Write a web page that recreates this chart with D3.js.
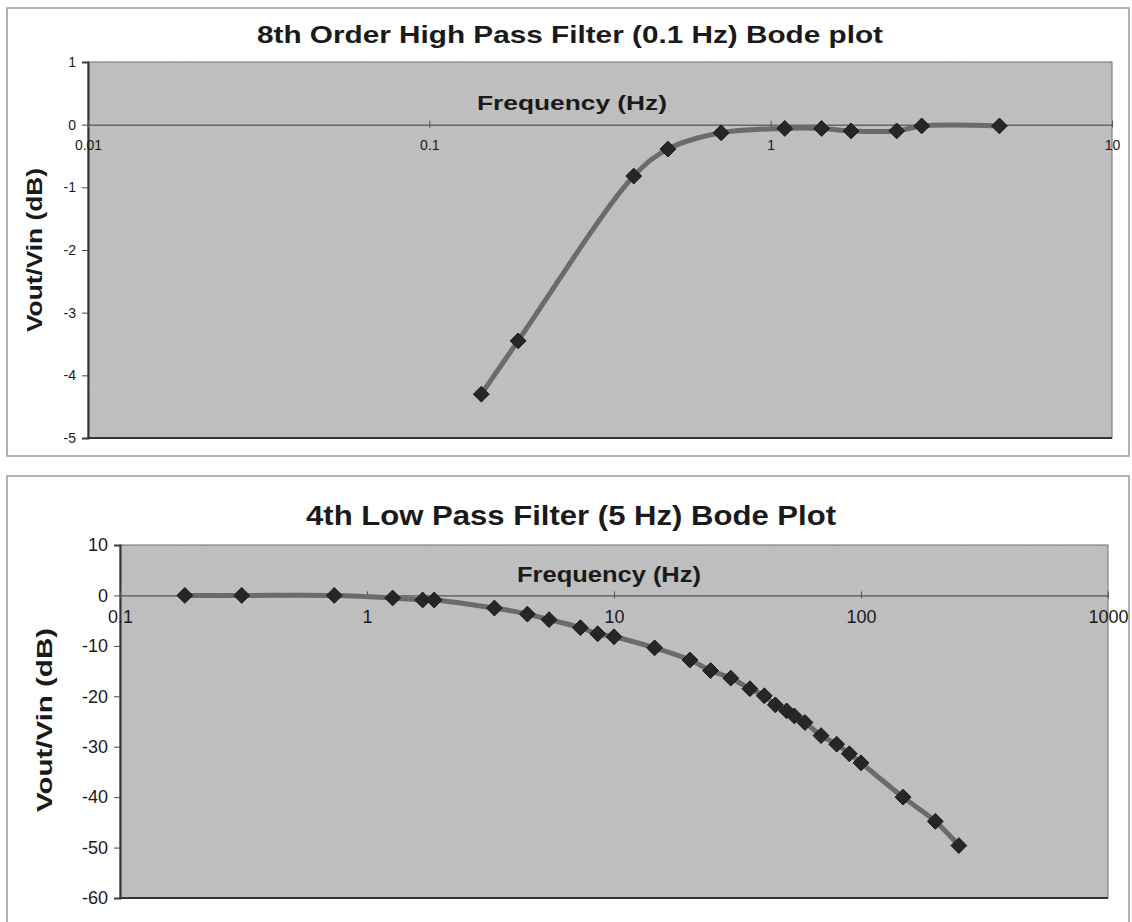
<!DOCTYPE html>
<html>
<head>
<meta charset="utf-8">
<script src="https://cdn.jsdelivr.net/npm/d3@7"></script>
<style>
  body { margin: 0; background: #fff; }
  text { font-family: "Liberation Sans", Arial, sans-serif; fill: #1a1a1a; }
</style>
</head>
<body>
<svg id="chart" width="1132" height="922"></svg>
<script>
// High pass (0.1 Hz) measurements
const hpFreq = [0.142, 0.182, 0.397, 0.50, 0.716, 1.10, 1.41, 1.72, 2.34, 2.77, 4.68];
const hpGain = [-4.30, -3.45, -0.82, -0.39, -0.13, -0.06, -0.06, -0.10, -0.10, -0.02, -0.02];
const hpXTicks = [0.01, 0.1, 1, 10];
const hpYTicks = [1, 0, -1, -2, -3, -4, -5];

// Low pass (5 Hz) measurements
const lpFreq = [0.183, 0.311, 0.737, 1.27, 1.68, 1.87, 3.28, 4.46, 5.46, 7.31, 8.59, 10.0,
  14.6, 20.3, 24.6, 29.7, 35.5, 40.6, 45, 50, 53.7, 59.3, 68.9, 79.7, 89.7, 100, 148, 200, 249];
const lpGain = [0, 0, 0, -0.5, -0.9, -0.9, -2.5, -3.7, -4.8, -6.4, -7.6, -8.2,
  -10.4, -12.8, -14.9, -16.4, -18.5, -19.9, -21.7, -22.9, -23.9, -25.2, -27.8, -29.5, -31.4, -33.2, -40.0, -44.8, -49.6];
const lpXTicks = [0.1, 1, 10, 100, 1000];
const lpYTicks = [10, 0, -10, -20, -30, -40, -50, -60];

const svg = d3.select("#chart");

// texture for the grey plot area
const defs = svg.append("defs");
const flt = defs.append("filter").attr("id", "grain");
flt.append("feTurbulence").attr("type", "fractalNoise").attr("baseFrequency", 0.9).attr("numOctaves", 2).attr("result", "n");
flt.append("feColorMatrix").attr("type", "matrix")
  .attr("values", "0 0 0 0 0.45  0 0 0 0 0.45  0 0 0 0 0.45  0 0 0 0.25 0").attr("result", "g");
flt.append("feComposite").attr("in", "g").attr("in2", "SourceGraphic").attr("operator", "in");

function drawChart(o) {
  const g = svg.append("g");

  // chart frame
  g.append("rect")
    .attr("x", o.frame[0]).attr("y", o.frame[1])
    .attr("width", o.frame[2]).attr("height", o.frame[3])
    .attr("fill", "#fff").attr("stroke", "#9a9a9a").attr("stroke-width", 1.5);

  const x = d3.scaleLog().domain(o.xDomain).range([o.left, o.right]);
  const y = d3.scaleLinear().domain(o.yDomain).range([o.bottom, o.top]);

  // plot area
  g.append("rect")
    .attr("x", o.left).attr("y", o.top)
    .attr("width", o.right - o.left).attr("height", o.bottom - o.top)
    .attr("fill", "#c0c0c0").attr("stroke", "#6a6a6a").attr("stroke-width", 1);
  g.append("rect")
    .attr("x", o.left).attr("y", o.top)
    .attr("width", o.right - o.left).attr("height", o.bottom - o.top)
    .attr("fill", "#c0c0c0").attr("filter", "url(#grain)");

  // y axis
  const ya = g.append("g")
    .attr("transform", `translate(${o.left},0)`)
    .call(d3.axisLeft(y).tickValues(o.yTicks).tickSize(6).tickPadding(6).tickFormat(d => String(d)));
  ya.select(".domain").attr("stroke", "#333").attr("stroke-width", 2);
  ya.selectAll(".tick line").attr("stroke", "#444");
  ya.selectAll("text").style("font-size", o.tickFont + "px").attr("fill", "#1a1a1a");

  // bottom edge darker, like the original
  g.append("line")
    .attr("x1", o.left).attr("x2", o.right)
    .attr("y1", o.bottom).attr("y2", o.bottom)
    .attr("stroke", "#333").attr("stroke-width", 2);

  // x axis crossing at 0 dB
  const xa = g.append("g")
    .attr("transform", `translate(0,${y(0)})`)
    .call(d3.axisBottom(x).tickValues(o.xTicks).tickSize(0).tickPadding(o.xPad)
      .tickFormat(d => String(d)));
  xa.select(".domain").attr("stroke", "#3a3a3a").attr("stroke-width", 1);
  xa.selectAll("text").style("font-size", o.tickFont + "px").attr("fill", "#1a1a1a");
  xa.selectAll(".tick").append("line")
    .attr("y1", -4).attr("y2", 3).attr("stroke", "#555");

  // titles
  g.append("text")
    .attr("x", o.titlePos[0]).attr("y", o.titlePos[1])
    .attr("text-anchor", "middle").style("font-weight", "bold")
    .style("font-size", o.titleFont + "px")
    .attr("textLength", o.titleLen).attr("lengthAdjust", "spacingAndGlyphs")
    .text(o.title);
  g.append("text")
    .attr("x", o.xTitlePos[0]).attr("y", o.xTitlePos[1])
    .attr("text-anchor", "middle").style("font-weight", "bold")
    .style("font-size", o.xTitleFont + "px")
    .attr("textLength", o.xTitleLen).attr("lengthAdjust", "spacingAndGlyphs")
    .text("Frequency (Hz)");
  g.append("text")
    .attr("transform", `translate(${o.yTitlePos[0]},${o.yTitlePos[1]}) rotate(-90)`)
    .attr("text-anchor", "middle").style("font-weight", "bold")
    .style("font-size", o.yTitleFont + "px")
    .attr("textLength", o.yTitleLen).attr("lengthAdjust", "spacingAndGlyphs")
    .text("Vout/Vin (dB)");

  // smoothed series line + diamond markers
  const pts = o.freq.map((f, i) => [f, o.gain[i]]);
  const line = d3.line().x(d => x(d[0])).y(d => y(d[1])).curve(d3.curveCatmullRom.alpha(0.5));
  g.append("path").datum(pts)
    .attr("d", line).attr("fill", "none")
    .attr("stroke", "#6b6b6b").attr("stroke-width", 5).attr("stroke-linejoin", "round");

  const diamond = d3.symbol().type(d3.symbolDiamond2).size(o.markerSize);
  g.append("g").selectAll("path")
    .data(pts).join("path")
    .attr("transform", d => `translate(${x(d[0])},${y(d[1])})`)
    .attr("d", diamond)
    .attr("fill", "#262626").attr("stroke", "#1a1a1a").attr("stroke-width", 1);
}

drawChart({
  frame: [7, 8, 1122, 448],
  left: 88, right: 1112, top: 62, bottom: 438,
  xDomain: [0.01, 10], yDomain: [-5, 1],
  xTicks: hpXTicks, yTicks: hpYTicks,
  freq: hpFreq, gain: hpGain,
  tickFont: 14, xPad: 15,
  title: "8th Order High Pass Filter (0.1 Hz) Bode plot",
  titlePos: [570, 43], titleFont: 24, titleLen: 626,
  xTitlePos: [572, 110], xTitleFont: 21, xTitleLen: 190,
  yTitlePos: [42, 250], yTitleFont: 22, yTitleLen: 164,
  markerSize: 160
});

drawChart({
  frame: [7, 476, 1122, 470],
  left: 120, right: 1108, top: 545, bottom: 898,
  xDomain: [0.1, 1000], yDomain: [-60, 10],
  xTicks: lpXTicks, yTicks: lpYTicks,
  freq: lpFreq, gain: lpGain,
  tickFont: 18, xPad: 15,
  title: "4th Low Pass Filter (5 Hz) Bode Plot",
  titlePos: [571, 525], titleFont: 27, titleLen: 530,
  xTitlePos: [609, 582], xTitleFont: 22, xTitleLen: 184,
  yTitlePos: [52, 720], yTitleFont: 22, yTitleLen: 184,
  markerSize: 160
});
</script>
</body>
</html>
